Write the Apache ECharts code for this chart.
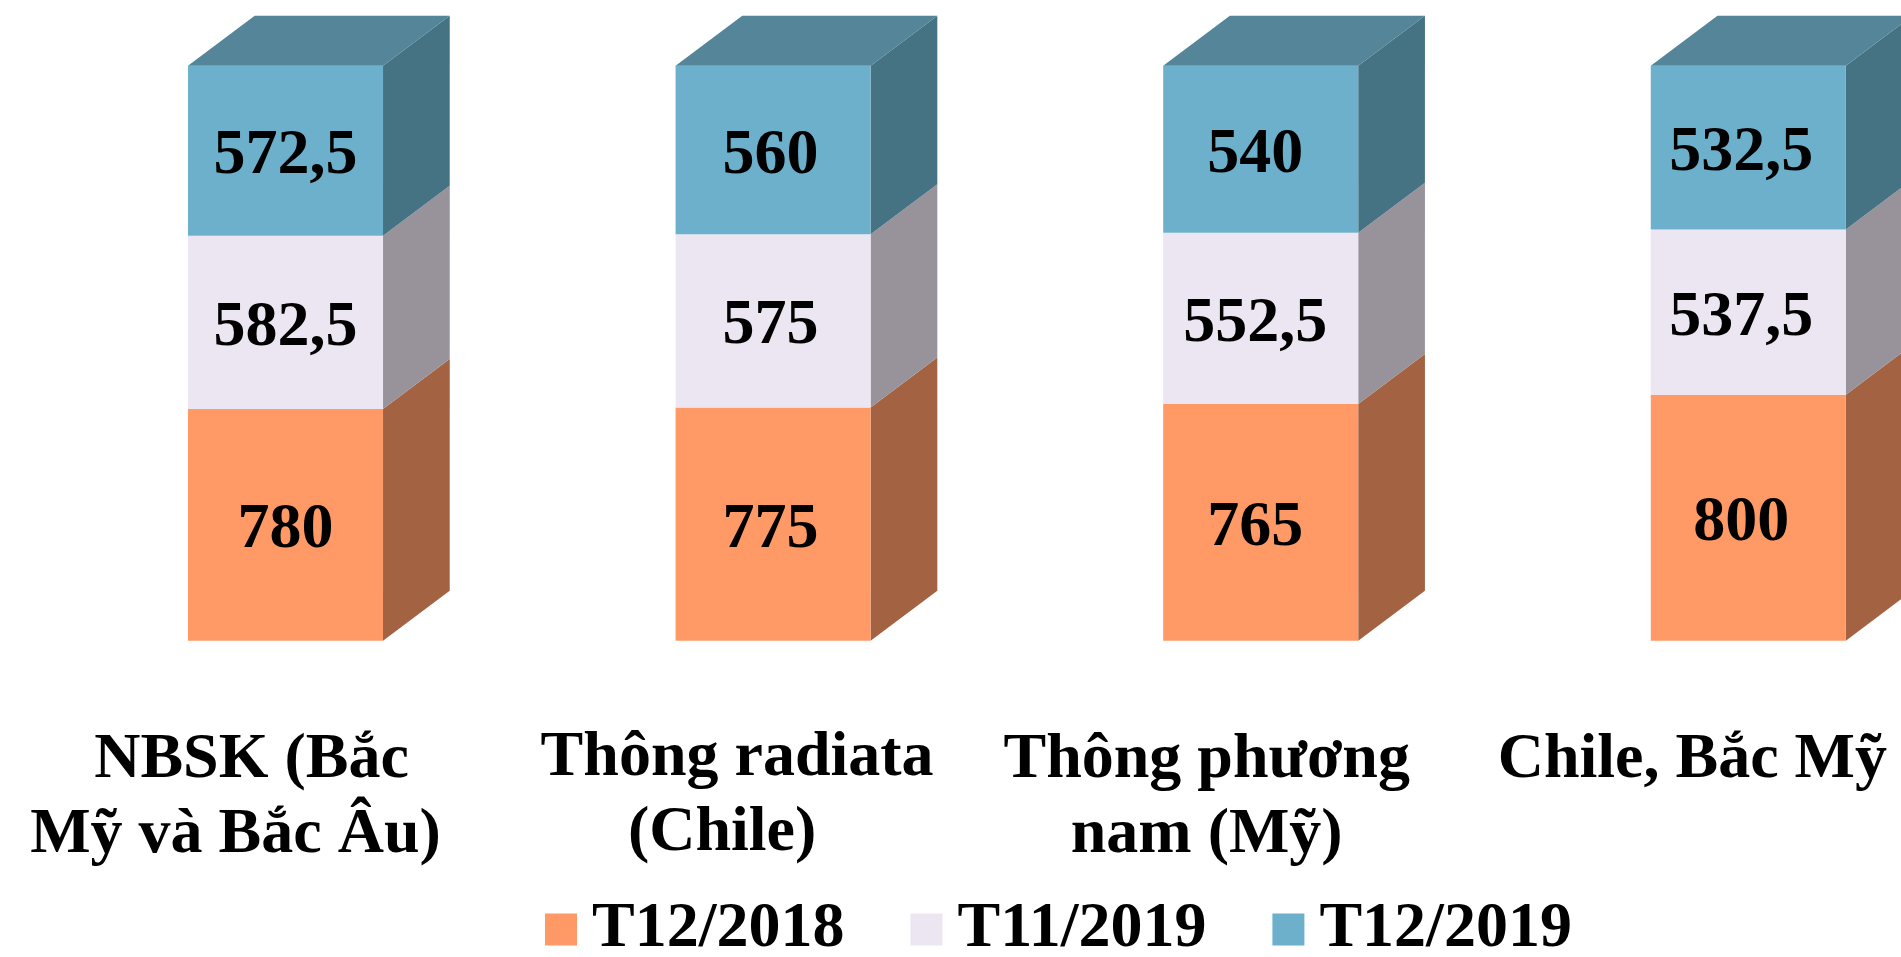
<!DOCTYPE html>
<html>
<head>
<meta charset="utf-8">
<title>Chart</title>
<style>
  html, body { margin: 0; padding: 0; background: #fff; overflow: hidden; }
  #chart { width: 1901px; height: 957px; }
</style>
<script src="https://cdn.jsdelivr.net/npm/echarts@6/dist/echarts.min.js"></script>
</head>
<body>
<div id="chart"></div>
<script>
  var categories = ['NBSK (Bắc\nMỹ và Bắc Âu)', 'Thông radiata\n(Chile)', 'Thông phương\nnam (Mỹ)', 'Chile, Bắc Mỹ'];
  var seriesNames = ['T12/2018', 'T11/2019', 'T12/2019'];
  var t122018 = [780, 775, 765, 800];
  var t112019 = [582.5, 575, 552.5, 537.5];
  var t122019 = [572.5, 560, 540, 532.5];
  var seriesValues = [t122018, t112019, t122019];

  var frontColors = ['#ff9966', '#ece5f2', '#6cb0cc'];
  var sideColors = ['#a36342', '#98929b', '#467383'];
  var topColor = '#548599';

  var fontFamily = '"Liberation Serif", "Times New Roman", serif';
  var depthX = 66.7;
  var depthY = 50;

  // value labels drift a little left of the bar centre in the picture
  var valueLabelNudge = [0, -2.5, -5.5, -7];

  // the bars are 100% stacked: every column has the same height
  function stackedRows(seriesIndex) {
    return categories.map(function(name, i) {
      var total = 0, low = 0;
      seriesValues.forEach(function(values, s) {
        total += values[i];
        if (s < seriesIndex) {
          low += values[i];
        }
      });
      var value = seriesValues[seriesIndex][i];
      return [i, low / total * 100, (low + value) / total * 100, value];
    });
  }

  function box(seriesIndex) {
    return function(params, api) {
      var band = api.size([1, 0])[0];
      var width = band * 0.4;
      var center = api.coord([api.value(0), 0])[0];
      var left = center - width / 2;
      var right = center + width / 2;
      var bottom = api.coord([api.value(0), api.value(1)])[1];
      var top = api.coord([api.value(0), api.value(2)])[1];
      var children = [{
        type: 'polygon',
        shape: { points: [[right, bottom], [right, top], [right + depthX, top - depthY], [right + depthX, bottom - depthY]] },
        style: { fill: sideColors[seriesIndex] }
      }, {
        type: 'rect',
        shape: { x: left, y: top, width: width, height: bottom - top },
        style: { fill: frontColors[seriesIndex] }
      }];
      if (seriesIndex === seriesValues.length - 1) {
        children.push({
          type: 'polygon',
          shape: { points: [[left, top], [right, top], [right + depthX, top - depthY], [left + depthX, top - depthY]] },
          style: { fill: topColor }
        });
      }
      children.push({
        type: 'text',
        style: {
          x: center + valueLabelNudge[api.value(0)],
          y: (top + bottom) / 2 + 6,
          text: String(api.value(3)).replace('.', ','),
          textAlign: 'center',
          textVerticalAlign: 'middle',
          fontFamily: fontFamily,
          fontWeight: 'bold',
          fontSize: 64,
          fill: '#000'
        }
      });
      return { type: 'group', children: children };
    };
  }

  // labels in the picture sit left of their bars; first line indents a bit more
  var labelShift = [50, 51, 54, 56];
  var labelDrop = [2, 0, 2, 2];
  var firstLineIndent = [32, 30, 0, 0];

  var axisData = categories.map(function(name, i) {
    var lines = name.split('\n');
    var text = '{first' + i + '|' + lines[0] + '}';
    if (lines[1]) {
      text += '\n{line|' + lines[1] + '}';
    }
    return { value: text, textStyle: { padding: [labelDrop[i], labelShift[i] * 2, 0, 0] } };
  });

  var labelStyle = { fontFamily: fontFamily, fontWeight: 'bold', fontSize: 64, lineHeight: 75, color: '#000' };
  var rich = { line: labelStyle };
  firstLineIndent.forEach(function(indent, i) {
    rich['first' + i] = Object.assign({ padding: [0, 0, 0, indent] }, labelStyle);
  });

  var chart = echarts.init(document.getElementById('chart'));
  chart.setOption({
    backgroundColor: '#fff',
    animation: false,
    legend: {
      data: seriesNames,
      left: 540,
      top: 887,
      icon: 'rect',
      itemWidth: 32,
      itemHeight: 32,
      itemGap: 66,
      textStyle: Object.assign({ padding: [0, 0, 0, 10] }, labelStyle)
    },
    grid: { left: 41.7, top: 65.7, width: 1950.4, height: 575, outerBoundsMode: 'none' },
    xAxis: {
      type: 'category',
      data: axisData,
      axisLine: { show: false },
      axisTick: { show: false },
      axisLabel: Object.assign({ interval: 0, margin: 80, rich: rich }, labelStyle)
    },
    yAxis: { type: 'value', min: 0, max: 100, show: false },
    series: seriesNames.map(function(name, s) {
      return {
        name: name,
        type: 'custom',
        clip: false,
        itemStyle: { color: frontColors[s] },
        encode: { x: 0, y: [1, 2] },
        data: stackedRows(s),
        renderItem: box(s)
      };
    })
  });
</script>
</body>
</html>
